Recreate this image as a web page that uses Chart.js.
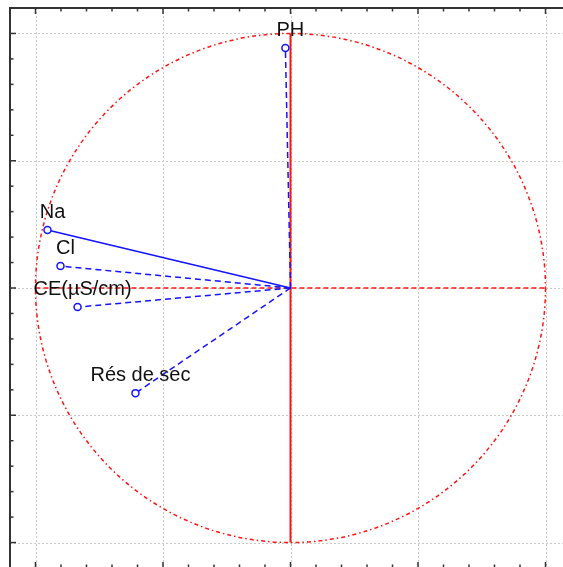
<!DOCTYPE html>
<html>
<head>
<meta charset="utf-8">
<script src="https://cdn.jsdelivr.net/npm/chart.js@4"></script>
<style>
  html, body { margin: 0; padding: 0; background: #fff; overflow: hidden; }
  #wrap { width: 590px; height: 590px; }
</style>
</head>
<body>
<div id="wrap"><canvas id="myChart" width="590" height="590"></canvas></div>
<script>
// variables and their loadings on factor 1 / factor 2
const variables = ['PH', 'Na', 'Cl', 'CE(µS/cm)', 'Rés de sec'];
const factor1 = [-0.02, -0.953, -0.902, -0.835, -0.608];
const factor2 = [0.943, 0.228, 0.086, -0.075, -0.413];
const axisMin = -1.1;
const axisMax = 1.1;
const minorStep = 0.1;
const majorStep = 0.5;

const blue = 'rgb(20,20,255)';
const red = 'rgb(255,20,20)';

const datasets = variables.map((name, i) => ({
  label: name,
  data: [{ x: 0, y: 0 }, { x: factor1[i], y: factor2[i] }],
  showLine: true,
  borderColor: blue,
  borderWidth: 1.5,
  borderDash: name === 'Na' ? [] : [6, 4],
  pointRadius: [0, 3.5],
  pointBorderWidth: 1.5,
  pointBorderColor: blue,
  pointBackgroundColor: '#fff'
}));

function tickValues() {
  const vals = [];
  for (let k = Math.round(axisMin / minorStep); k <= Math.round(axisMax / minorStep); k++) {
    vals.push(+(k * minorStep).toFixed(2));
  }
  return vals;
}

function isMajor(v) {
  return Math.abs(v / majorStep - Math.round(v / majorStep)) < 1e-6;
}

// grid, border, ticks, unit circle and red factor axes
const framePlugin = {
  id: 'frame',
  beforeDatasetsDraw(chart) {
    const { ctx, chartArea: a, scales: { x, y } } = chart;
    const vals = tickValues();
    ctx.save();

    // dotted grid on the major values
    ctx.strokeStyle = '#c8c8c8';
    ctx.lineWidth = 1;
    ctx.setLineDash([2, 2]);
    vals.filter(isMajor).forEach(v => {
      const px = Math.round(x.getPixelForValue(v)) + 0.5;
      const py = Math.round(y.getPixelForValue(v)) + 0.5;
      ctx.beginPath(); ctx.moveTo(px, a.top); ctx.lineTo(px, a.bottom); ctx.stroke();
      ctx.beginPath(); ctx.moveTo(a.left, py); ctx.lineTo(a.right, py); ctx.stroke();
    });

    // unit circle
    const cx = x.getPixelForValue(0), cy = y.getPixelForValue(0);
    const rx = x.getPixelForValue(1) - cx, ry = cy - y.getPixelForValue(1);
    ctx.strokeStyle = red;
    ctx.lineWidth = 1.5;
    ctx.setLineDash([4, 3, 1.5, 3]);
    ctx.beginPath(); ctx.ellipse(cx, cy, rx, ry, 0, 0, Math.PI * 2); ctx.stroke();

    // horizontal factor axis (dashed)
    ctx.setLineDash([5, 3]);
    ctx.beginPath();
    ctx.moveTo(x.getPixelForValue(-1), cy);
    ctx.lineTo(x.getPixelForValue(1), cy);
    ctx.stroke();

    // vertical factor axis (solid)
    ctx.setLineDash([]);
    ctx.lineWidth = 2;
    ctx.beginPath();
    ctx.moveTo(cx, y.getPixelForValue(1));
    ctx.lineTo(cx, y.getPixelForValue(-1));
    ctx.stroke();

    // frame and inward ticks
    ctx.strokeStyle = '#333';
    ctx.lineWidth = 2;
    ctx.strokeRect(a.left, a.top, a.right - a.left, a.bottom - a.top);
    ctx.lineWidth = 1.5;
    vals.forEach(v => {
      const len = isMajor(v) ? 6 : 3.5;
      const px = x.getPixelForValue(v);
      const py = y.getPixelForValue(v);
      ctx.beginPath(); ctx.moveTo(px, a.top); ctx.lineTo(px, a.top + len); ctx.stroke();
      ctx.beginPath(); ctx.moveTo(px, a.bottom); ctx.lineTo(px, a.bottom - len); ctx.stroke();
      ctx.beginPath(); ctx.moveTo(a.left, py); ctx.lineTo(a.left + len, py); ctx.stroke();
      ctx.beginPath(); ctx.moveTo(a.right, py); ctx.lineTo(a.right - len, py); ctx.stroke();
    });
    ctx.restore();
  },
  afterDatasetsDraw(chart) {
    const { ctx } = chart;
    ctx.save();
    ctx.font = '20px "Liberation Sans", Arial, sans-serif';
    ctx.fillStyle = '#111';
    ctx.textAlign = 'center';
    ctx.textBaseline = 'alphabetic';
    chart.data.datasets.forEach((ds, i) => {
      const pt = chart.getDatasetMeta(i).data[1];
      ctx.fillText(ds.label, pt.x + 5, pt.y - 12);
    });
    ctx.restore();
  }
};

const ctx = document.getElementById('myChart').getContext('2d');
new Chart(ctx, {
  type: 'scatter',
  data: { datasets: datasets },
  options: {
    responsive: false,
    animation: false,
    layout: { padding: { left: 10, top: 8, right: 19, bottom: 22 } },
    plugins: { legend: { display: false }, tooltip: { enabled: false } },
    scales: {
      x: { display: false, min: axisMin, max: axisMax },
      y: { display: false, min: axisMin, max: axisMax }
    }
  },
  plugins: [framePlugin]
});
</script>
</body>
</html>
